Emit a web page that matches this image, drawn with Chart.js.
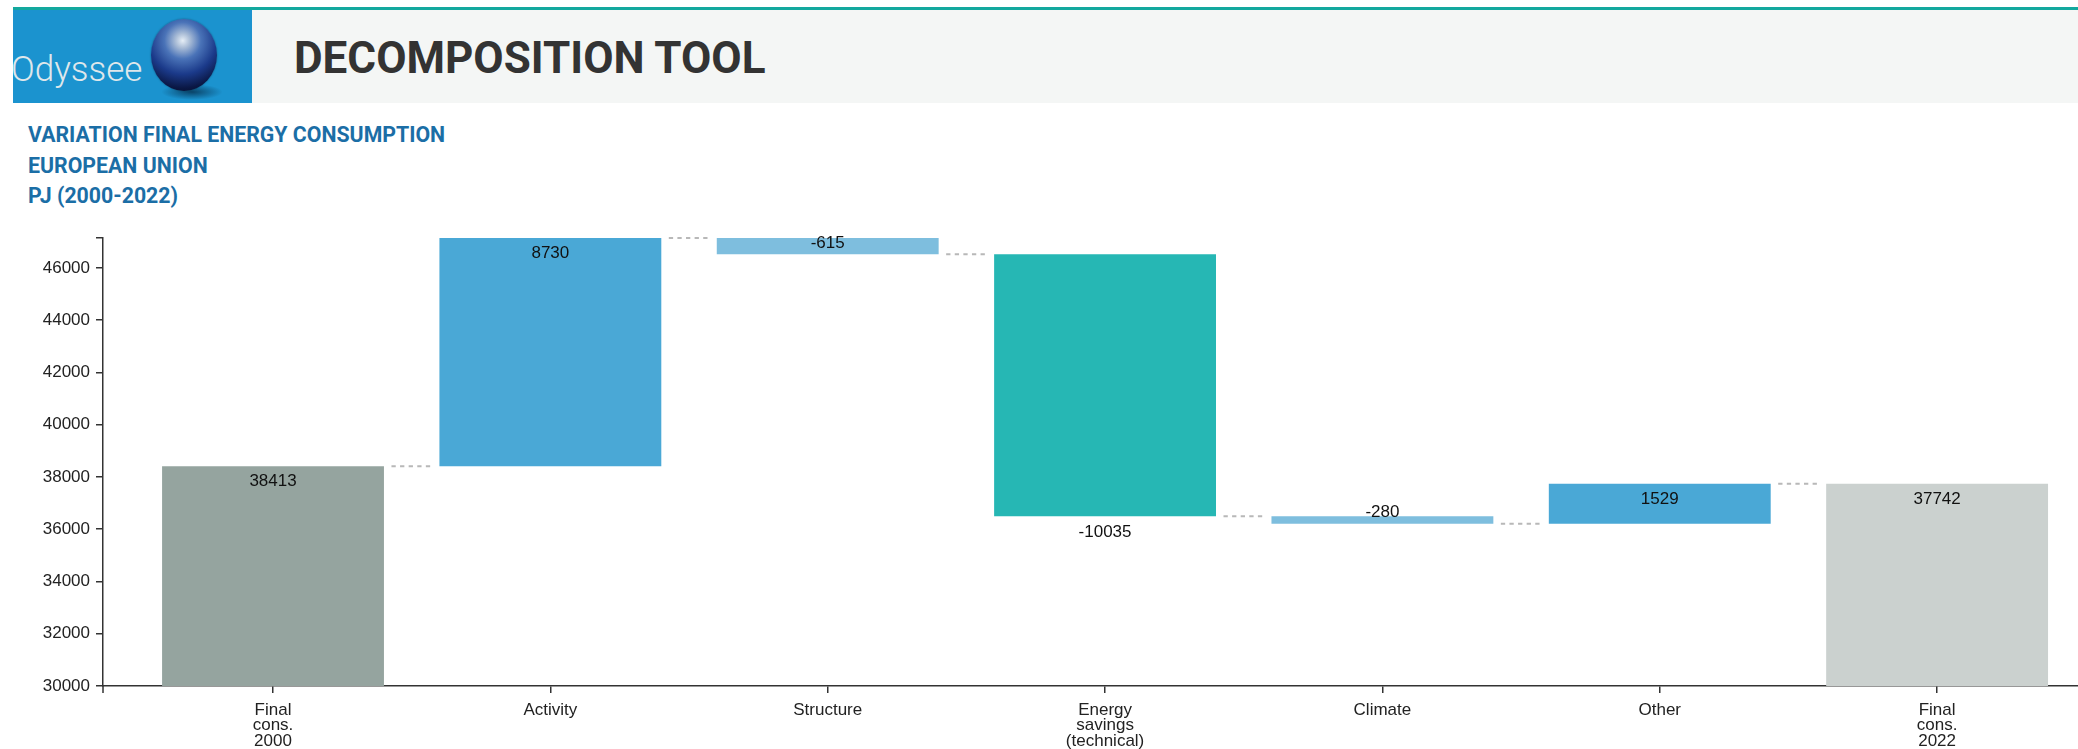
<!DOCTYPE html>
<html>
<head>
<meta charset="utf-8">
<script src="https://cdn.jsdelivr.net/npm/chart.js@4.4.1/dist/chart.umd.min.js"></script>
<style>
html,body{margin:0;padding:0;background:#fff;width:2078px;height:749px;overflow:hidden;}
#topline{position:absolute;left:13px;top:7px;width:2065px;height:3px;background:#13a89e;}
#header{position:absolute;left:13px;top:10px;width:2065px;height:93px;background:#f4f6f5;}
#logo{position:absolute;left:0;top:0;width:239px;height:93px;background:#1b93cf;overflow:hidden;}
#logotext{position:absolute;left:-2px;top:42px;font-family:Roboto,"Liberation Sans",sans-serif;font-weight:300;font-size:35px;line-height:35px;color:#dfe7eb;white-space:nowrap;}
#globe{position:absolute;left:138px;top:9px;width:66px;height:72px;border-radius:50%;
background:radial-gradient(circle at 48% 30%, #e6eef6 0%, #a9bcd6 12%, #4a73b8 30%, #1b3a8a 55%, #0a1744 78%, #04081c 100%);
box-shadow:0 0 2px rgba(0,0,0,0.4);}
#shadow{position:absolute;left:148px;top:74px;width:62px;height:16px;border-radius:50%;
background:radial-gradient(ellipse at center, rgba(0,25,50,0.65) 0%, rgba(0,25,50,0) 70%);}
#title{position:absolute;left:294px;top:36px;font-family:Roboto,"Liberation Sans",sans-serif;font-weight:700;font-size:44px;line-height:44px;color:#333;white-space:nowrap;}
#sub{position:absolute;left:28px;top:120px;font-family:Roboto,"Liberation Sans",sans-serif;font-weight:700;font-size:21.3px;line-height:30.5px;color:#1b6ea6;white-space:nowrap;}
#wrap{position:absolute;left:0;top:215px;width:2078px;height:534px;}
</style>
</head>
<body>
<div id="topline"></div>
<div id="header">
  <div id="logo"><div id="logotext">Odyssee</div><div id="shadow"></div><div id="globe"></div></div>
</div>
<div id="title">DECOMPOSITION TOOL</div>
<div id="sub">VARIATION FINAL ENERGY CONSUMPTION<br>EUROPEAN UNION<br>PJ (2000-2022)</div>
<div id="wrap"><canvas id="c" width="2078" height="534"></canvas></div>
<script>
// ---- data ----
const categories = [['Final','cons.','2000'], 'Activity', 'Structure', ['Energy','savings','(technical)'], 'Climate', 'Other', ['Final','cons.','2022']];
const startValue = 38413;
const changes = [8730, -615, -10035, -280, 1529];
const endValue = 37742;
const yTickValues = [30000, 32000, 34000, 36000, 38000, 40000, 42000, 44000, 46000];
const yMin = 30000;
const barColors = ['#95a49f', '#4aa8d6', '#7ebede', '#26b7b4', '#7ebede', '#4aa8d6', '#cbd1cf'];

// ---- derived ----
const ranges = [];
const levels = [];
let level = startValue;
ranges.push([yMin, startValue]);
levels.push(level);
changes.forEach(c => { ranges.push([level, level + c]); level += c; levels.push(level); });
ranges.push([yMin, endValue]);
const labelValues = [startValue].concat(changes, [endValue]);
const kinds = ['total'].concat(changes.map(() => 'delta'), ['total']);
const yMax = Math.max(...ranges.flat());

const overlay = {
  id: 'overlay',
  afterDatasetsDraw(chart) {
    const ctx = chart.ctx;
    const meta = chart.getDatasetMeta(0);
    const ys = chart.scales.y;
    const area = chart.chartArea;
    ctx.save();
    // outer tick at the left end of the x axis
    ctx.strokeStyle = '#333';
    ctx.lineWidth = 1.5;
    ctx.beginPath();
    ctx.moveTo(area.left, area.bottom);
    ctx.lineTo(area.left, area.bottom + 7);
    ctx.stroke();
    // connectors
    ctx.strokeStyle = '#b8b8b8';
    ctx.lineWidth = 2;
    ctx.setLineDash([4.3, 4.3]);
    for (let i = 0; i < meta.data.length - 1; i++) {
      const a = meta.data[i], b = meta.data[i + 1];
      const yy = ys.getPixelForValue(levels[i]);
      ctx.beginPath();
      ctx.moveTo(a.x + a.width / 2 + 7.5, yy);
      ctx.lineTo(b.x - b.width / 2 - 8.5, yy);
      ctx.stroke();
    }
    ctx.setLineDash([]);
    // labels
    ctx.fillStyle = '#111';
    ctx.font = '17px "Liberation Sans", Arial, sans-serif';
    ctx.textAlign = 'center';
    ctx.textBaseline = 'middle';
    meta.data.forEach((el, i) => {
      const top = Math.min(el.y, el.base), bot = Math.max(el.y, el.base);
      let cy;
      if (kinds[i] === 'total' || labelValues[i] >= 0) cy = top + 14.5;
      else if (bot - top > 30) cy = bot + 15;
      else cy = bot - 12;
      ctx.fillText(String(labelValues[i]), el.x, cy + 0.8);
    });
    ctx.restore();
  }
};

const xMin = -0.613, xMax = 6.508;
new Chart(document.getElementById('c'), {
  type: 'bar',
  data: {
    datasets: [{
      data: ranges.map((r, i) => ({ x: i, y: r })),
      backgroundColor: barColors,
      borderWidth: 0,
      categoryPercentage: 0.8,
      barPercentage: 1.0
    }]
  },
  options: {
    responsive: false,
    animation: false,
    devicePixelRatio: 1,
    layout: { padding: { top: 23.1, left: 0, right: 0, bottom: 0 } },
    plugins: { legend: { display: false }, tooltip: { enabled: false } },
    scales: {
      x: {
        type: 'linear', min: xMin, max: xMax, offset: false,
        afterBuildTicks: s => { s.ticks = categories.map((c, i) => ({ value: i })); },
        ticks: {
          callback: v => (Number.isInteger(v) ? categories[v] : ''),
          font: { family: '"Liberation Sans", Arial, sans-serif', size: 17, lineHeight: 0.92 },
          color: '#222', padding: 9, maxRotation: 0, autoSkip: false
        },
        grid: { offset: false, drawOnChartArea: false, drawTicks: true, tickLength: 7, color: '#333', lineWidth: 1.5 },
        border: { display: true, color: '#333', width: 1.5 },
        afterFit: s => { s.height = 63; }
      },
      y: {
        type: 'linear', min: yMin, max: yMax,
        afterBuildTicks: s => { s.ticks = yTickValues.map(v => ({ value: v })).concat([{ value: yMax }]); },
        ticks: {
          callback: v => (yTickValues.includes(v) ? String(v) : ''),
          font: { family: '"Liberation Sans", Arial, sans-serif', size: 17 },
          color: '#222', padding: 6
        },
        grid: { drawOnChartArea: false, drawTicks: true, tickLength: 7, color: '#333', lineWidth: 1.5 },
        border: { display: true, color: '#333', width: 1.5 },
        afterFit: s => { s.width = 103; }
      }
    }
  },
  plugins: [overlay]
});
</script>
</body>
</html>
